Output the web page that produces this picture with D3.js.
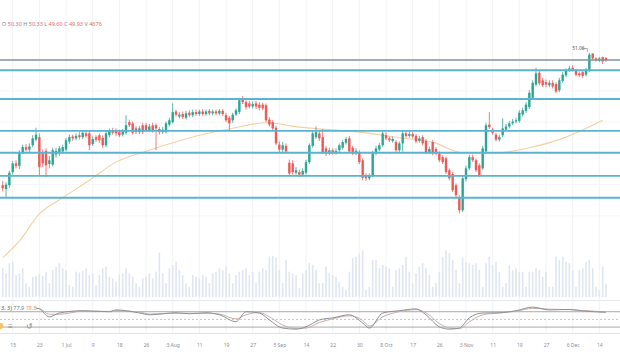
<!DOCTYPE html>
<html>
<head>
<meta charset="utf-8">
<script src="https://cdn.jsdelivr.net/npm/d3@7"></script>
<style>
  body { margin: 0; background: #fff; }
  svg { display: block; font-family: "Noto Sans", sans-serif; }
</style>
</head>
<body>
<div id="chart"></div>
<script>
// daily candles, index 0..181
var opens  = [29.9,29.3,29.9,32.0,33.4,33.0,35.2,36.0,35.6,36.3,37.2,37.6,35.0,35.4,33.3,33.2,34.8,35.0,35.3,35.6,
              36.9,37.7,37.4,37.9,37.6,38.2,38.2,36.5,37.6,37.9,37.5,36.3,37.9,38.7,38.6,38.4,38.0,38.3,40.0,39.8,
              39.0,38.4,39.5,39.5,38.7,39.5,39.5,38.9,38.4,38.4,39.6,40.0,41.7,40.9,41.3,40.7,41.5,41.1,41.6,41.3,
              41.7,41.3,41.8,41.4,41.7,41.4,41.8,41.1,40.7,40.3,41.2,41.6,43.6,43.2,43.0,42.5,43.0,42.8,42.8,42.7,
              40.4,40.0,39.1,36.4,35.6,36.2,33.5,33.4,31.9,32.0,31.6,31.9,33.6,36.2,37.6,38.2,37.6,35.8,35.0,35.5,
              35.1,35.5,35.9,36.7,37.4,35.9,35.0,35.2,33.9,31.4,31.0,31.5,35.0,35.6,36.3,37.9,37.4,37.0,36.8,35.5,
              36.6,38.2,37.8,38.1,37.8,37.0,37.6,37.0,35.2,36.8,35.7,35.0,34.4,34.2,32.3,31.7,29.9,28.0,25.9,30.9,
              32.6,34.4,33.9,33.1,32.6,35.3,39.6,38.8,38.0,37.2,37.9,38.8,39.3,39.8,40.1,40.2,41.2,41.8,42.4,43.9,
              46.0,47.9,46.7,46.4,45.9,46.3,46.1,45.1,46.6,47.5,48.3,48.7,48.2,47.8,48.0,47.6,48.3,51.0,50.2,49.9,
              50.4,50.30];
var highs  = [30.6,30.4,32.2,33.8,33.9,35.5,36.4,36.5,36.6,37.9,39.1,38.2,35.6,35.8,34.6,35.9,35.9,36.2,36.4,37.5,
              38.0,38.0,38.2,38.4,38.6,38.6,38.6,37.7,37.9,38.2,37.9,38.6,39.0,39.1,39.0,38.8,38.9,41.1,40.4,40.1,
              39.4,39.4,39.9,39.9,39.7,39.9,39.8,39.2,39.2,40.1,40.7,43.0,42.0,41.6,41.7,41.8,41.9,42.0,42.0,42.0,
              42.1,42.0,42.1,42.0,42.0,42.1,42.1,41.5,41.0,41.5,42.2,43.9,44.2,43.6,43.4,43.3,43.4,43.2,43.1,43.0,
              40.8,40.3,39.4,36.9,36.8,36.6,34.0,33.9,32.8,32.4,32.6,34.0,36.6,38.6,39.3,38.6,38.9,36.2,35.9,35.8,
              35.8,36.6,37.1,37.6,37.8,36.2,35.8,35.5,34.2,31.8,31.8,35.4,36.2,36.7,38.6,38.4,37.7,37.7,37.1,36.9,
              38.6,38.7,38.5,38.4,38.1,37.8,37.9,37.3,36.1,37.1,36.0,35.3,34.7,34.5,32.6,32.0,30.2,28.3,31.4,33.0,
              34.8,34.8,34.2,33.4,36.2,39.9,41.6,39.1,38.3,38.0,40.6,39.7,40.2,40.5,40.7,41.9,42.3,43.2,45.1,46.7,
              48.7,48.3,47.1,46.8,46.7,46.7,46.4,47.1,48.0,48.6,49.0,49.1,48.5,48.1,48.3,48.7,51.06,51.0,50.4,50.4,
              50.5,50.33];
var lows   = [28.9,27.9,29.5,31.6,32.6,32.5,34.9,35.3,35.2,36.0,36.9,31.5,32.8,31.2,32.6,32.9,34.3,34.6,35.0,35.3,
              36.5,37.0,37.1,37.2,37.3,37.5,35.5,36.2,36.8,36.7,35.9,36.0,37.6,38.0,37.8,37.6,37.7,38.0,39.2,38.0,
              38.1,38.1,38.1,38.4,38.4,38.3,35.5,38.0,38.1,38.2,39.3,39.8,40.9,40.6,40.5,40.4,40.8,40.8,41.0,41.0,
              41.0,41.0,41.1,41.1,41.1,41.1,41.0,40.0,38.7,39.9,41.0,41.3,42.9,42.0,42.2,42.2,42.1,41.9,41.9,40.0,
              39.3,38.7,36.3,35.2,35.1,35.0,31.5,31.6,31.6,31.2,31.3,31.6,33.3,35.9,37.3,37.0,34.9,34.6,34.7,34.8,
              34.8,35.2,35.6,36.4,35.0,34.7,34.7,33.3,30.7,30.6,30.7,31.2,34.7,35.3,36.0,37.1,36.8,36.7,35.2,35.2,
              35.3,37.5,37.5,37.4,36.6,36.7,36.3,34.9,34.9,34.7,34.7,33.6,33.3,31.7,30.7,28.8,27.9,25.4,25.6,30.5,
              32.3,33.6,32.0,31.2,32.3,35.0,38.9,38.0,36.9,36.9,37.6,38.5,39.0,39.5,39.8,39.9,40.9,41.5,42.1,43.6,
              45.7,45.9,45.6,45.6,45.6,45.4,44.6,44.8,46.3,47.2,48.0,48.1,47.3,47.2,47.1,47.3,48.0,49.9,49.7,49.6,
              49.3,49.60];
var closes = [29.4,30.0,31.9,33.4,33.0,35.2,36.0,35.6,36.1,37.4,38.0,32.8,33.4,33.1,33.9,35.5,35.4,35.8,36.0,37.1,
              37.6,37.4,37.8,37.6,38.3,37.8,36.3,37.3,37.2,37.1,36.3,38.2,38.7,38.3,38.2,37.9,38.5,39.5,39.5,38.3,
              38.4,39.0,38.4,38.7,39.3,38.7,39.0,38.4,38.8,39.8,40.3,41.6,41.2,41.2,40.8,41.4,41.1,41.6,41.3,41.7,
              41.3,41.7,41.4,41.7,41.4,41.8,41.3,40.3,39.8,41.2,41.9,43.5,43.2,42.4,42.5,42.9,42.5,42.3,42.2,40.3,
              39.6,39.0,36.6,35.6,36.3,35.3,31.8,32.0,32.3,31.6,32.2,33.6,36.3,38.2,38.4,37.4,35.2,35.0,35.5,35.1,
              35.4,36.3,36.8,37.3,35.3,35.0,35.4,33.6,31.1,31.0,31.4,35.0,35.8,36.3,38.2,37.4,37.1,37.3,35.5,36.6,
              38.2,37.8,38.1,37.7,36.9,37.4,36.6,35.2,35.7,35.0,35.0,33.9,33.6,32.0,31.0,29.1,28.3,25.9,31.0,32.6,
              34.4,33.9,32.3,31.5,35.8,39.5,39.2,38.3,37.2,37.6,39.0,39.3,39.8,40.1,40.3,41.5,41.9,42.8,44.7,46.3,
              47.8,46.2,45.9,46.0,46.3,45.7,44.9,46.7,47.6,48.2,48.6,48.4,47.6,47.5,47.4,48.4,50.8,50.2,49.9,50.2,
              49.7,49.93];
// volume in thousands
var volumes = [10.2,8.4,12.0,12.5,7.8,8.4,10.2,4.9,3.6,7.2,7.5,8.2,7.5,9.0,4.9,9.6,10.8,12.0,10.2,9.6,
               4.3,3.6,9.0,8.7,9.4,10.2,7.8,8.4,4.3,7.8,10.2,10.8,7.2,6.6,5.5,7.8,8.4,10.2,8.2,7.2,
               4.9,3.6,6.6,7.2,8.4,6.6,9.0,15.8,8.4,4.9,10.2,11.4,12.5,9.6,7.8,4.9,3.6,7.8,7.2,6.6,
               7.8,7.2,4.9,8.4,9.0,10.2,9.6,10.8,8.4,4.9,7.8,9.0,9.6,10.2,7.8,9.0,4.9,9.0,10.2,9.6,
               14.4,14.6,14.1,9.6,4.9,13.2,9.0,8.4,7.8,3.1,8.4,9.6,12.0,11.4,9.6,4.9,4.9,10.8,8.4,7.8,
               7.2,5.5,3.6,2.5,9.0,13.8,14.3,15.5,16.6,2.5,3.6,13.2,13.2,10.2,11.4,10.8,10.2,3.6,9.6,10.2,
               11.4,14.3,9.0,4.9,8.4,10.8,12.0,10.2,7.8,3.6,5.0,9.0,14.3,16.6,15.5,13.2,9.6,4.9,13.8,12.5,
               12.0,11.4,12.0,9.6,3.6,12.0,14.3,11.4,12.5,9.0,3.6,4.9,11.4,9.6,10.2,9.0,9.0,3.6,9.0,9.0,
               10.2,9.6,7.2,9.0,3.6,3.6,14.3,13.2,14.3,12.5,12.0,9.6,3.6,9.6,10.2,12.5,13.2,10.2,3.6,2.5,
               10.8,4.7];

// moving average, read at a few bars
var maIdx  = [0, 5, 11, 18, 26, 34, 44, 59, 68, 79, 89, 98, 107, 119, 129, 138, 148, 158, 169, 180];
var maVals = [18.3, 21.0, 25.3, 27.9, 30.7, 33.6, 35.5, 37.9, 38.9, 39.9, 39.2, 38.8, 38.4, 37.5, 36.8, 35.1, 35.1, 35.9, 37.6, 40.3];

// stochastic lines, read at a few bars
var oscIdx = [10, 11, 14, 17, 24, 32, 34, 41, 44, 52, 56, 61, 65, 70, 73, 77, 80, 84, 88, 91, 95, 99, 104, 108, 110, 114, 119, 124, 127, 131, 134, 137, 140, 144, 149, 154, 159, 164, 170, 174, 181];
var oscK   = [95, 91, 60, 75, 84, 80, 87, 75, 68, 76, 72, 76, 68, 41, 80, 75, 48, 16, 12, 21, 48, 56, 68, 36, 16, 75, 84, 91, 68, 21, 12, 16, 56, 75, 76, 84, 98, 87, 89, 83, 77.9];
var oscD   = [93, 92, 70, 70, 82, 81, 84, 79, 71, 74, 74, 74, 71, 52, 68, 77, 60, 28, 15, 16, 38, 52, 64, 46, 24, 60, 80, 88, 76, 34, 16, 14, 40, 68, 75, 82, 93, 90, 88, 85, 78.8];

// horizontal levels drawn on the chart
var levels = [48.3, 43.7, 38.6, 35.1, 31.4, 27.9];
var lastPrice = 49.93;
var highLabel = "51.06";

var tickLabels = ["15", "23", "1 Jul", "9", "18", "26", "3 Aug", "11", "19", "27", "5 Sep", "14", "22", "30",
                  "8 Oct", "17", "26", "3 Nov", "11", "19", "27", "6 Dec", "14"];
var tickIdx = tickLabels.map(function(d, i) { return 3 + i * 8; });

var svgWidth = 620, svgHeight = 364;
var upColor = "#2ba596", downColor = "#ec5a57";

var svg = d3.select("#chart").append("svg")
  .attr("width", svgWidth)
  .attr("height", svgHeight);

var x = d3.scaleLinear().domain([0, 181]).range([2.7, 606]);
var y = d3.scaleLinear().domain([20, 55]).range([247.1, 28.4]);
var volY = d3.scaleLinear().domain([0, 16]).range([297, 252]);
var oscY = d3.scaleLinear().domain([0, 100]).range([332.2, 306.6]);

svg.append("clipPath").attr("id", "mainClip")
  .append("rect").attr("x", 0).attr("y", 0).attr("width", svgWidth).attr("height", 300);
svg.append("clipPath").attr("id", "oscClip")
  .append("rect").attr("x", 0).attr("y", 300).attr("width", svgWidth).attr("height", 33);

// grid
svg.append("g").selectAll("line").data(tickIdx).enter().append("line")
  .attr("x1", d => x(d)).attr("x2", d => x(d))
  .attr("y1", 0).attr("y2", 333)
  .attr("stroke", "#f1f3f6").attr("stroke-width", 1);

svg.append("g").selectAll("line").data([25, 30, 35, 40, 45, 50]).enter().append("line")
  .attr("x1", 0).attr("x2", svgWidth)
  .attr("y1", d => y(d)).attr("y2", d => y(d))
  .attr("stroke", "#f5f6f8").attr("stroke-width", 1);

var main = svg.append("g").attr("clip-path", "url(#mainClip)");

// volume
main.append("g").selectAll("rect").data(volumes).enter().append("rect")
  .attr("x", (d, i) => x(i) - 0.8)
  .attr("y", d => volY(d))
  .attr("width", 1.6)
  .attr("height", d => volY(0) - volY(d))
  .attr("fill", "#dfe6f1");

// moving average
var maLine = d3.line()
  .x((d, i) => x(maIdx[i]))
  .y(d => y(d))
  .curve(d3.curveMonotoneX);

main.append("path").datum(maVals)
  .attr("d", maLine)
  .attr("fill", "none")
  .attr("stroke", "#f4d09f")
  .attr("stroke-width", 1.1);

// candles
var candles = main.append("g").selectAll("g").data(closes).enter().append("g");

candles.append("line")
  .attr("x1", (d, i) => x(i)).attr("x2", (d, i) => x(i))
  .attr("y1", (d, i) => y(highs[i]))
  .attr("y2", (d, i) => y(lows[i]))
  .attr("stroke", (d, i) => d >= opens[i] ? upColor : downColor)
  .attr("stroke-width", 0.8);

candles.append("rect")
  .attr("x", (d, i) => x(i) - 1.2)
  .attr("y", (d, i) => y(Math.max(d, opens[i])))
  .attr("width", 2.4)
  .attr("height", (d, i) => Math.max(0.8, Math.abs(y(d) - y(opens[i]))))
  .attr("fill", (d, i) => d >= opens[i] ? upColor : downColor);

// level lines
main.append("g").selectAll("line").data(levels).enter().append("line")
  .attr("x1", 0).attr("x2", svgWidth)
  .attr("y1", d => y(d)).attr("y2", d => y(d))
  .attr("stroke", "#5ab3d1")
  .attr("stroke-width", 1.8);

main.append("line")
  .attr("x1", 0).attr("x2", svgWidth)
  .attr("y1", y(lastPrice)).attr("y2", y(lastPrice))
  .attr("stroke", "#7d96a2")
  .attr("stroke-width", 1.5);

// high marker
var hi = d3.max(highs), hiIdx = highs.indexOf(hi);
main.append("text")
  .attr("x", x(hiIdx) - 17).attr("y", y(hi) - 3)
  .attr("font-size", 4.8).attr("fill", "#555")
  .text(highLabel);
main.append("path")
  .attr("d", `M${x(hiIdx) - 7},${y(hi) - 4.5}H${x(hiIdx) - 2}V${y(hi) - 1}`)
  .attr("fill", "none").attr("stroke", "#777").attr("stroke-width", 0.6);

// header legend
var header = svg.append("text").attr("x", 2).attr("y", 26).attr("font-size", 5.5);
var hdr = [["O ", "50.30"], [" H ", "50.33"], [" L ", "49.60"], [" C ", "49.93"], [" V ", "4676"]];
hdr.forEach(function(p) {
  header.append("tspan").attr("fill", "#7d89a3").text(p[0]);
  header.append("tspan").attr("fill", "#e06a6a").text(p[1]);
});

// panel borders
svg.append("line").attr("x1", 0).attr("x2", svgWidth).attr("y1", 300.5).attr("y2", 300.5)
  .attr("stroke", "#e6e8ec");
svg.append("line").attr("x1", 0).attr("x2", svgWidth).attr("y1", 333.5).attr("y2", 333.5)
  .attr("stroke", "#e0e3e8");

// oscillator
var osc = svg.append("g").attr("clip-path", "url(#oscClip)");
[80, 20].forEach(function(v) {
  osc.append("line").attr("x1", 0).attr("x2", svgWidth)
    .attr("y1", oscY(v)).attr("y2", oscY(v))
    .attr("stroke", "#a9a9a9").attr("stroke-width", 1);
});
osc.append("line").attr("x1", 0).attr("x2", svgWidth)
  .attr("y1", oscY(50)).attr("y2", oscY(50))
  .attr("stroke", "#c4c4c4").attr("stroke-dasharray", "2,2");

var oscLine = d3.line()
  .x((d, i) => x(oscIdx[i]))
  .y(d => oscY(d))
  .curve(d3.curveMonotoneX);

osc.append("path").datum(oscD).attr("d", oscLine)
  .attr("fill", "none").attr("stroke", "#c9b1a8").attr("stroke-width", 1);
osc.append("path").datum(oscK).attr("d", oscLine)
  .attr("fill", "none").attr("stroke", "#8d919c").attr("stroke-width", 1);

var oscText = svg.append("text").attr("x", 1).attr("y", 310).attr("font-size", 5.5);
oscText.append("tspan").attr("fill", "#555").text("3, 3) ");
oscText.append("tspan").attr("fill", "#6f80a8").text(oscK[oscK.length - 1] + " ");
oscText.append("tspan").attr("fill", "#ef9d4e").text(oscD[oscD.length - 1]);

svg.append("circle").attr("cx", 0.5).attr("cy", 326).attr("r", 3).attr("fill", "#f2c46c");
svg.append("text").attr("x", 8).attr("y", 329).attr("font-size", 8).attr("fill", "#8a8a8a").text("≡");
svg.append("text").attr("x", 26).attr("y", 329).attr("font-size", 8).attr("fill", "#8a8a8a").text("↺");

// x axis
var xAxis = d3.axisBottom(x)
  .tickValues(tickIdx)
  .tickFormat((d, i) => tickLabels[i])
  .tickSize(0);

var axisG = svg.append("g")
  .attr("transform", "translate(0, 340)")
  .call(xAxis);
axisG.select(".domain").remove();
axisG.selectAll("text")
  .attr("font-size", 5)
  .attr("fill", "#8a8e99")
  .attr("font-family", "Noto Sans, sans-serif");
</script>
</body>
</html>
